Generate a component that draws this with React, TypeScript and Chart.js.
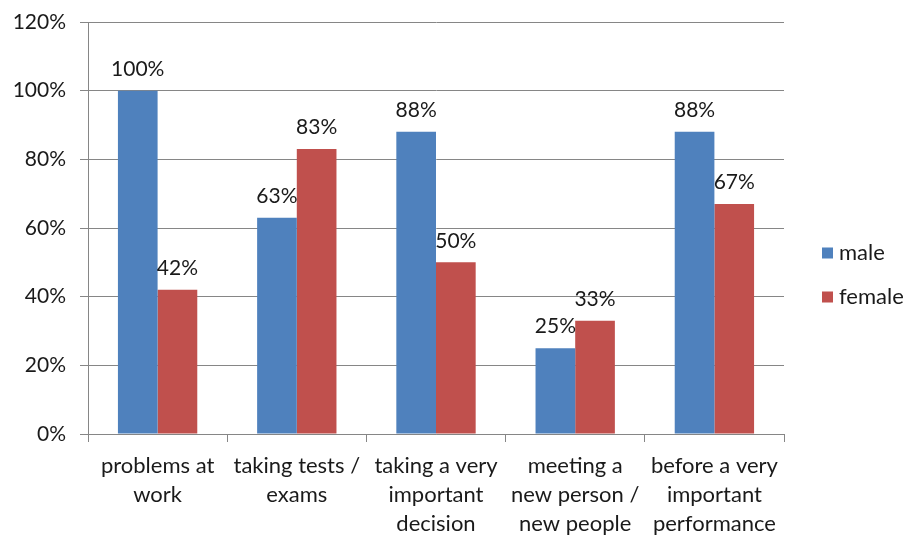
import React, { useEffect, useRef } from "react";
import { Chart, registerables } from "chart.js";

Chart.register(...registerables);

const categories: string[][] = [
  ["problems at", "work"],
  ["taking tests /", "exams"],
  ["taking a very", "important", "decision"],
  ["meeting a", "new person /", "new people"],
  ["before a very", "important", "performance"],
];
const maleValues = [100, 63, 88, 25, 88];
const femaleValues = [42, 83, 50, 33, 67];
const seriesNames = ["male", "female"];
const seriesColors = ["#4F81BD", "#C0504D"];

const FONT = "Lato, 'Open Sans', sans-serif";
const TEXT = "#1a1a1a";
const GRID = "#868686";

const valueLabels = {
  id: "valueLabels",
  afterDatasetsDraw(chart: any) {
    const ctx = chart.ctx;
    ctx.save();
    ctx.font = `21px ${FONT}`;
    ctx.fillStyle = TEXT;
    ctx.textAlign = "center";
    ctx.textBaseline = "bottom";
    chart.data.datasets.forEach((ds: any, i: number) => {
      const meta = chart.getDatasetMeta(i);
      meta.data.forEach((bar: any, j: number) => {
        ctx.fillText(`${ds.data[j]}%`, bar.x, bar.y - 11);
      });
    });
    ctx.restore();
  },
};

const sideLegend = {
  id: "sideLegend",
  afterDraw(chart: any) {
    const ctx = chart.ctx;
    ctx.save();
    ctx.font = `22px ${FONT}`;
    ctx.textBaseline = "middle";
    ctx.textAlign = "left";
    seriesNames.forEach((name, i) => {
      const cy = 253 + i * 44;
      ctx.fillStyle = seriesColors[i];
      ctx.fillRect(822, cy - 5.5, 11, 11);
      ctx.fillStyle = TEXT;
      ctx.fillText(name, 839, cy);
    });
    ctx.restore();
  },
};

export default function App() {
  const ref = useRef<HTMLCanvasElement>(null);
  useEffect(() => {
    if (!ref.current) return;
    const chart = new Chart(ref.current, {
      type: "bar",
      data: {
        labels: categories,
        datasets: [
          { label: seriesNames[0], data: maleValues, backgroundColor: seriesColors[0] },
          { label: seriesNames[1], data: femaleValues, backgroundColor: seriesColors[1] },
        ],
      },
      options: {
        responsive: false,
        animation: false,
        layout: { padding: { left: 0, top: 22, right: 123, bottom: 0 } },
        datasets: { bar: { categoryPercentage: 0.57, barPercentage: 1 } },
        plugins: { legend: { display: false }, tooltip: { enabled: false } },
        scales: {
          x: {
            afterFit: (s: any) => { s.height = 101; s.paddingLeft = 0; s.paddingRight = 0; },
            grid: {
              offset: true,
              drawOnChartArea: false,
              drawTicks: true,
              tickLength: 8,
              color: GRID,
            },
            border: { color: GRID },
            ticks: {
              padding: 9,
              color: TEXT,
              font: { family: FONT, size: 22, lineHeight: 1.32 },
              maxRotation: 0,
              autoSkip: false,
            },
          },
          y: {
            min: 0,
            max: 120,
            afterFit: (s: any) => { s.width = 88; s.paddingTop = 0; s.paddingBottom = 0; },
            grid: { color: GRID, tickLength: 8, drawTicks: true },
            border: { color: GRID },
            ticks: {
              stepSize: 20,
              padding: 14,
              color: TEXT,
              font: { family: FONT, size: 21 },
              callback: (v: any) => `${v}%`,
            },
          },
        },
      },
      plugins: [valueLabels, sideLegend],
    });
    return () => chart.destroy();
  }, []);
  return (
    <div style={{ position: "absolute", left: 0, top: 0, width: 907, height: 535, background: "#fff" }}>
      <canvas ref={ref} width={907} height={535} />
    </div>
  );
}
